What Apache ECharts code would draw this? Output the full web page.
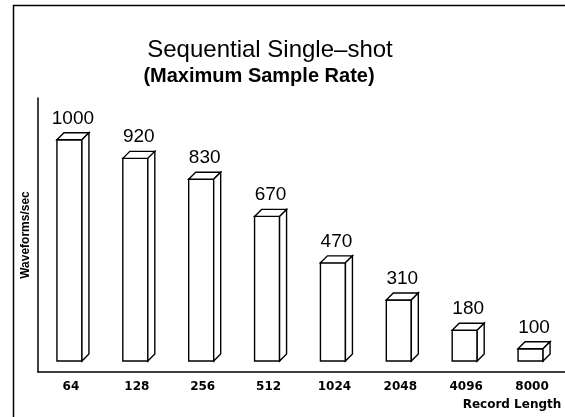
<!DOCTYPE html>
<html>
<head>
<meta charset="utf-8">
<script src="https://cdn.jsdelivr.net/npm/echarts@6/dist/echarts.min.js"></script>
<style>
  html, body { margin: 0; padding: 0; background: #fff; }
  #chart { width: 565px; height: 417px; }
</style>
</head>
<body>
<div id="chart"></div>
<script>
// Record lengths (x categories) and acquisition rates (waveforms per second)
const recordLengths = ['64', '128', '256', '512', '1024', '2048', '4096', '8000'];
const waveformsPerSec = [1000, 920, 830, 670, 470, 310, 180, 100];

const chartTitle = 'Sequential Single\u2013shot';
const chartSubtitle = '(Maximum Sample Rate)';
const yAxisName = 'Waveforms/sec';
const xAxisName = 'Record Length';

const FONT = '"Liberation Sans", Arial, Helvetica, sans-serif';
const WIDE_FONT = '"DejaVu Sans", Verdana, sans-serif';
const FACE_W = 25;      // width of the front face of each box
const DEPTH = 7;        // oblique depth of the 3D box
const FLOOR_LIFT = 11;  // boxes stand on a floor slightly above the axis line

// Draws one value as an outlined 3D box with its value written above it
function renderBox(params, api) {
  const idx = api.value(0);
  const val = api.value(1);
  const topPt = api.coord([idx, val]);
  const zeroPt = api.coord([idx, 0]);
  const left = topPt[0] - 14;
  const right = left + FACE_W;
  const yTop = topPt[1];
  const yBot = zeroPt[1] - FLOOR_LIFT;
  const st = { stroke: '#000', lineWidth: 1.4, fill: '#fff', lineJoin: 'miter' };
  return {
    type: 'group',
    children: [
      { type: 'polygon', shape: { points: [[left, yTop], [right, yTop], [right, yBot], [left, yBot]] }, style: st },
      { type: 'polygon', shape: { points: [[left, yTop], [left + DEPTH, yTop - DEPTH], [right + DEPTH, yTop - DEPTH], [right, yTop]] }, style: st },
      { type: 'polygon', shape: { points: [[right, yTop], [right + DEPTH, yTop - DEPTH], [right + DEPTH, yBot - DEPTH], [right, yBot]] }, style: st },
      {
        type: 'text',
        x: (left + right + DEPTH) / 2,
        y: yTop - DEPTH - 5,
        style: { text: String(val), textAlign: 'center', textVerticalAlign: 'bottom', font: '19px ' + FONT, fill: '#000' }
      }
    ]
  };
}

const chart = echarts.init(document.getElementById('chart'), null, { renderer: 'canvas' });

chart.setOption({
  animation: false,
  backgroundColor: '#fff',
  grid: { left: 38, right: -10, top: 98, bottom: 45, containLabel: false },
  xAxis: {
    type: 'category',
    data: recordLengths,
    axisLine: { show: true, lineStyle: { color: '#000', width: 1.5 } },
    axisTick: { show: false },
    axisLabel: { color: '#000', fontFamily: WIDE_FONT, fontWeight: 'bold', fontSize: 12, margin: 9 },
    splitLine: { show: false }
  },
  yAxis: {
    type: 'value',
    min: 0,
    max: 1180,
    name: yAxisName,
    nameLocation: 'middle',
    nameRotate: 90,
    nameGap: 6,
    nameTextStyle: { color: '#000', fontFamily: FONT, fontWeight: 'bold', fontSize: 12 },
    axisLine: { show: true, lineStyle: { color: '#000', width: 1.5 } },
    axisTick: { show: false },
    axisLabel: { show: false },
    splitLine: { show: false }
  },
  series: [{
    type: 'custom',
    renderItem: renderBox,
    data: waveformsPerSec.map((v, i) => [i, v]),
    encode: { x: 0, y: 1 },
    clip: false
  }],
  graphic: [
    { type: 'rect', left: 11, top: 3, shape: { width: 580, height: 440 }, style: { fill: 'none', stroke: '#000', lineWidth: 1.5 }, silent: true },
    { type: 'text', x: 270, y: 38, style: { text: chartTitle, textAlign: 'center', textVerticalAlign: 'top', font: '24px ' + FONT, fill: '#000' } },
    { type: 'text', x: 259, y: 66, style: { text: chartSubtitle, textAlign: 'center', textVerticalAlign: 'top', font: 'bold 20px ' + FONT, fill: '#000' } },
    { type: 'text', x: 512, y: 405, style: { text: xAxisName, textAlign: 'center', textVerticalAlign: 'middle', font: 'bold 12px ' + WIDE_FONT, fill: '#000' } }
  ]
});
</script>
</body>
</html>
